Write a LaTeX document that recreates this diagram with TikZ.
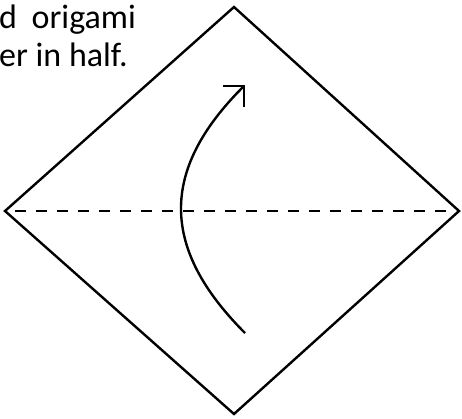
\documentclass[tikz,border=0pt]{standalone}
\usepackage{fontspec}
\setmainfont{Carlito}
\usetikzlibrary{arrows.meta}
\tikzset{
    paper/.style={draw, line width=2.4pt, line join=miter},
    foldline/.style={line width=2.4pt, dash pattern=on 11pt off 10pt},
    arrow/.style={line width=2.4pt, -{Straight Barb[angle=90:21pt]}},
    caption/.style={anchor=base west, inner sep=0pt, font=\fontsize{34}{37}\selectfont}
}

\begin{document}
\begin{tikzpicture}[x=1pt, y=-1pt]
\useasboundingbox (0,0) rectangle (462,418);
% corners of the paper
\coordinate (top) at (234,7);
\coordinate (left) at (5,211);
\coordinate (right) at (459,211);
\coordinate (bottom) at (234,414);
\draw[paper] (top) -- (right) -- (bottom) -- (left) -- cycle;
% fold line
\coordinate (fl) at (15,211);
\coordinate (fr) at (453,211);
\draw[foldline] (fl) -- (fr);
% fold arrow
\coordinate (start) at (245,333);
\coordinate (tip) at (245,85);
\draw[arrow] (start) .. controls (160,248) and (160,170) .. (tip);
% text
\node[caption] (line1) at (-1,28.5) {d\hspace{7pt} origami};
\node[caption] (line2) at (-1,66) {er in half.};
\end{tikzpicture}
\end{document}
